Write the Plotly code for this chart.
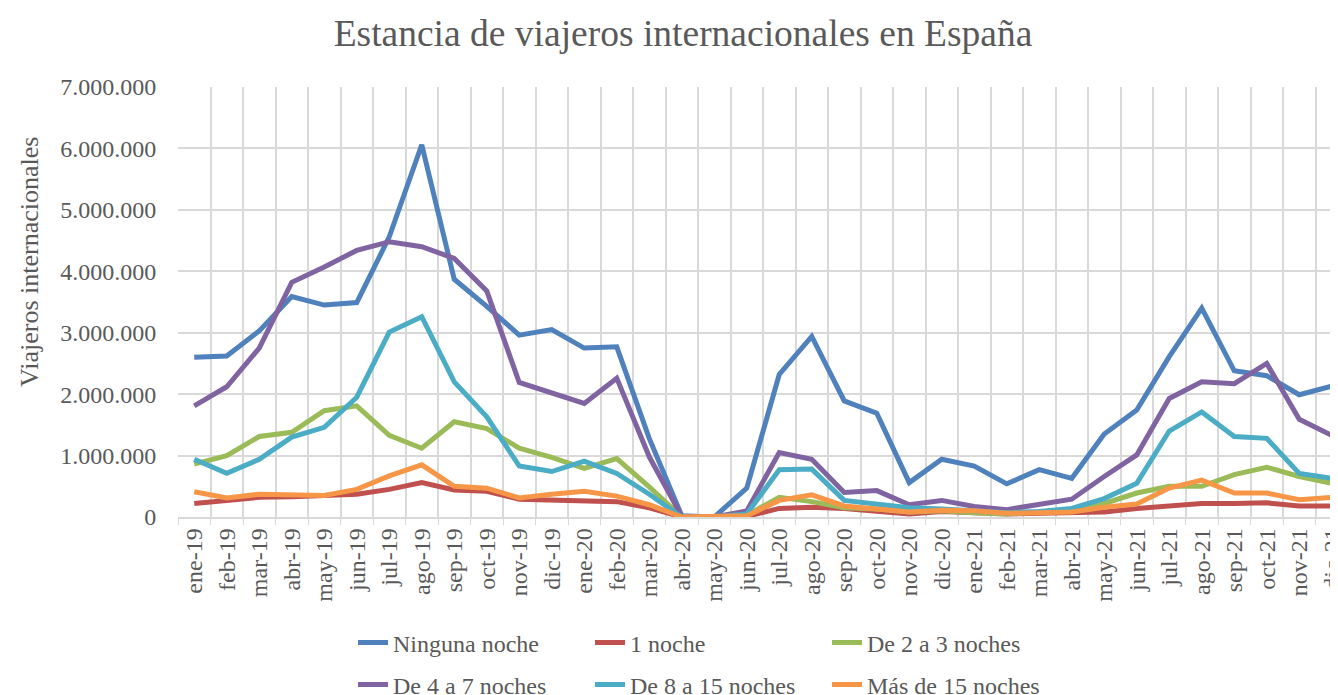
import plotly.graph_objects as go

months = ["ene-19","feb-19","mar-19","abr-19","may-19","jun-19","jul-19","ago-19","sep-19","oct-19","nov-19","dic-19",
          "ene-20","feb-20","mar-20","abr-20","may-20","jun-20","jul-20","ago-20","sep-20","oct-20","nov-20","dic-20",
          "ene-21","feb-21","mar-21","abr-21","may-21","jun-21","jul-21","ago-21","sep-21","oct-21","nov-21","dic-21"]

ninguna_noche = [2600000, 2620000, 3030000, 3590000, 3450000, 3490000, 4560000, 6060000, 3870000, 3430000, 2960000, 3050000,
                 2750000, 2770000, 1280000, 20000, 0, 470000, 2320000, 2940000, 1890000, 1690000, 560000, 940000,
                 830000, 540000, 770000, 630000, 1350000, 1740000, 2610000, 3400000, 2380000, 2300000, 1990000, 2130000]
una_noche = [220000, 280000, 320000, 330000, 350000, 370000, 450000, 560000, 440000, 420000, 290000, 280000,
             280000, 250000, 150000, 0, 0, 10000, 140000, 160000, 140000, 100000, 50000, 90000,
             60000, 50000, 60000, 60000, 80000, 140000, 180000, 220000, 220000, 230000, 180000, 180000]
de_2_a_3 = [860000, 1000000, 1310000, 1380000, 1730000, 1810000, 1330000, 1120000, 1550000, 1440000, 1120000, 970000,
            790000, 950000, 490000, 0, 0, 30000, 320000, 250000, 150000, 130000, 80000, 100000,
            70000, 50000, 80000, 120000, 220000, 390000, 500000, 500000, 690000, 810000, 660000, 550000]
de_4_a_7 = [1810000, 2120000, 2750000, 3820000, 4070000, 4340000, 4480000, 4400000, 4210000, 3680000, 2190000, 2010000,
            1850000, 2260000, 980000, 10000, 0, 100000, 1050000, 940000, 400000, 430000, 200000, 270000,
            170000, 120000, 200000, 290000, 660000, 1010000, 1930000, 2200000, 2170000, 2500000, 1590000, 1330000]
de_8_a_15 = [940000, 710000, 940000, 1300000, 1460000, 1950000, 3010000, 3260000, 2200000, 1630000, 830000, 740000,
             910000, 710000, 370000, 0, 0, 50000, 770000, 780000, 270000, 220000, 150000, 130000,
             100000, 70000, 90000, 140000, 300000, 550000, 1400000, 1710000, 1310000, 1280000, 710000, 630000]
mas_de_15 = [410000, 310000, 370000, 350000, 350000, 450000, 670000, 850000, 500000, 470000, 310000, 370000,
             420000, 340000, 200000, 0, 0, 20000, 270000, 360000, 180000, 140000, 80000, 110000,
             100000, 60000, 80000, 80000, 160000, 210000, 470000, 600000, 390000, 390000, 280000, 320000]

series_names = ["Ninguna noche", "1 noche", "De 2 a 3 noches", "De 4 a 7 noches", "De 8 a 15 noches", "Más de 15 noches"]
series_values = [ninguna_noche, una_noche, de_2_a_3, de_4_a_7, de_8_a_15, mas_de_15]
colors = ["#4F81BD", "#C0504D", "#9BBB59", "#8064A2", "#4BACC6", "#F79646"]
legend_ids = ["legend", "legend2", "legend3", "legend4", "legend5", "legend6"]

W, H = 1338, 695
OFF = 8  # page body margin
FONT = "Liberation Serif"
GREY = "#595959"

# plot area in window pixels
PL, PT, PB = 178, 87, 517
MR = 2
ML, MT, MB = PL - OFF, PT - OFF, H - (PB - OFF)
PW = W - ML - MR
PH = H - MT - MB


def cx(px):
    return (px - OFF) / W


def cy(py):
    return 1 - (py - OFF) / H


def pxp(px):
    return (px - PL) / PW


def pyp(py):
    return (PB - py) / PH


fig = go.Figure()
for name, vals, col, lg in zip(series_names, series_values, colors, legend_ids):
    fig.add_trace(go.Scatter(x=months, y=vals, name=name, mode="lines",
                             line=dict(color=col, width=5), legend=lg))

# legend positions (text start px, row center px) in window pixels
leg_pos = [(393, 643), (630, 643), (867, 643), (393, 685), (630, 685), (867, 685)]
legends = {}
for lg, (tx, ty) in zip(legend_ids, leg_pos):
    legends[lg] = dict(xref="paper", yref="paper", x=pxp(tx - 40), y=pyp(ty),
                       xanchor="left", yanchor="middle", bgcolor="rgba(0,0,0,0)",
                       font=dict(family=FONT, size=24, color=GREY))

fig.update_layout(
    width=W, height=H,
    margin=dict(l=ML, r=MR, t=MT, b=MB, autoexpand=False),
    paper_bgcolor="white", plot_bgcolor="white",
    separators=",.",
    title=dict(text="Estancia de viajeros internacionales en España", xref="container", x=cx(683),
               xanchor="center", yref="container", y=cy(33), yanchor="middle",
               font=dict(family=FONT, size=37.5, color=GREY)),
    font=dict(family=FONT, color=GREY),
    showlegend=True,
    annotations=[dict(text="Viajeros internacionales", xref="paper", yref="paper",
                      x=pxp(30), y=pyp(262), xanchor="center", yanchor="middle", textangle=-90,
                      showarrow=False, font=dict(family=FONT, size=26, color=GREY))],
    **legends,
)

cat_w = 32.5
fig.update_xaxes(type="category", range=[-0.5, -0.5 + PW / cat_w], tickson="boundaries", ticks="outside", ticklen=6,
                 tickcolor="#D9D9D9", showgrid=True, gridcolor="#D9D9D9", gridwidth=1.5,
                 showline=True, linecolor="#D9D9D9", linewidth=1.5, tickangle=-90,
                 tickfont=dict(family=FONT, size=24, color=GREY), automargin=False)
fig.update_yaxes(range=[0, 7000000], dtick=1000000, tickformat=",d", showgrid=True, gridcolor="#D9D9D9",
                 gridwidth=1.5, zeroline=False, ticks="outside", ticklen=16, tickcolor="rgba(0,0,0,0)",
                 tickfont=dict(family=FONT, size=24, color=GREY), automargin=False)

fig.write_html("out.html")
